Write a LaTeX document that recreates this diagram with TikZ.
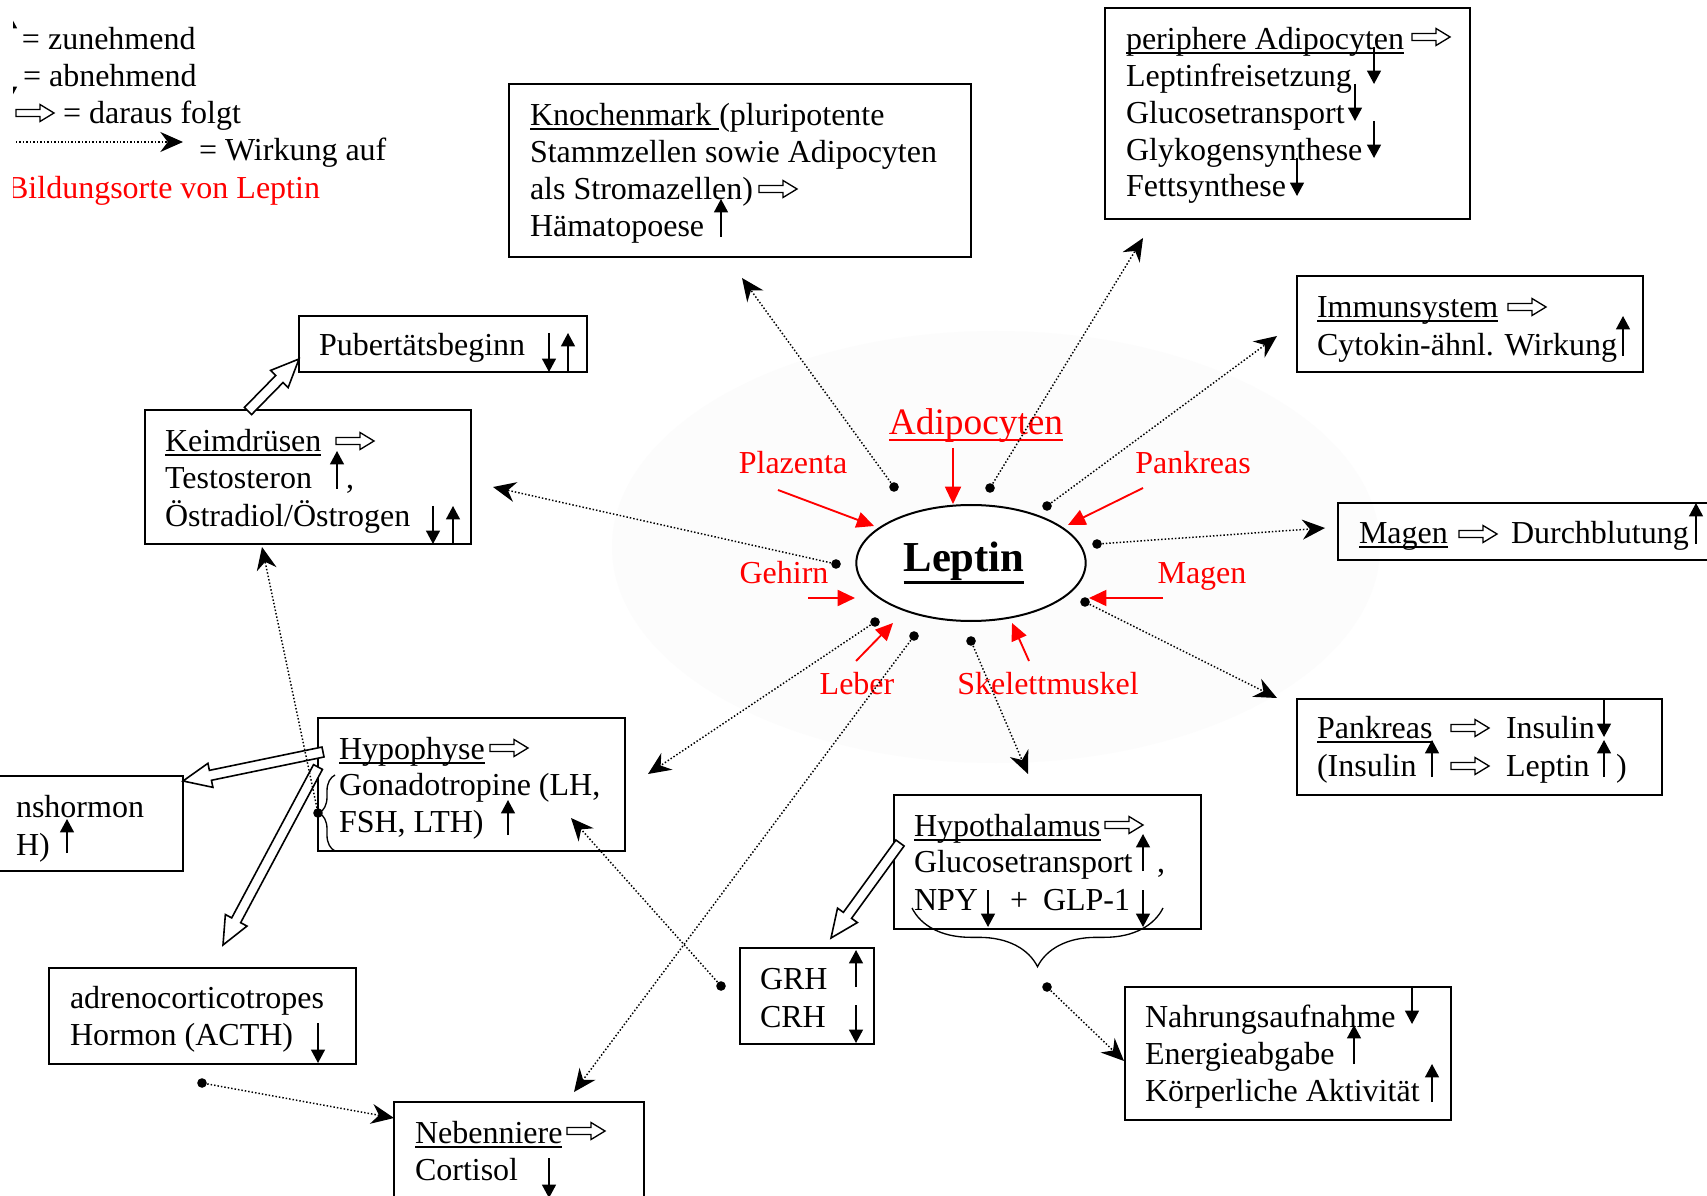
\documentclass[tikz,border=0pt]{standalone}
\usepackage{fontspec}
\setmainfont{Liberation Serif}
\usetikzlibrary{arrows.meta, shapes.geometric, calc, decorations.pathreplacing}

\tikzset{
  txt/.style={inner sep=0pt, outer sep=0pt, anchor=base west, yshift=-0.9pt, font=\fontsize{12}{14}\selectfont},
  rtxt/.style={inner sep=0pt, outer sep=0pt, anchor=base, yshift=-0.9pt, text=red, font=\fontsize{12}{14}\selectfont},
  ul/.style={append after command={([yshift=-1.4pt]\tikzlastnode.base west) edge[line width=0.6pt, draw=black] ([yshift=-1.4pt]\tikzlastnode.base east)}},
  ulred/.style={append after command={([yshift=-2pt]\tikzlastnode.base west) edge[line width=0.7pt, draw=red] ([yshift=-2pt]\tikzlastnode.base east)}},
  ulthick/.style={append after command={([yshift=-3.8pt]\tikzlastnode.base west) edge[line width=1.2pt, draw=black] ([yshift=-3.8pt]\tikzlastnode.base east)}},
  boxst/.style={draw, line width=0.75pt, inner sep=0pt, outer sep=0pt, rectangle},
  updn/.style={line width=0.6pt, -{Triangle[length=5pt, width=5.2pt]}},
  dotarr/.style={line width=0.55pt, dash pattern=on 0.55pt off 0.75pt, -{Stealth[length=8.5pt, width=7.5pt, inset=2.8pt]}},
  redarr/.style={red, line width=0.7pt, -{Triangle[length=6.5pt, width=6pt]}},
  dotn/.style={circle, fill=black, inner sep=0pt, minimum size=3.6pt},
  pics/dimp/.style={code={\draw[line width=0.5pt, fill=white, line join=miter] (0,-3.5)--(24,-3.5)--(24,-8.5)--(38,0)--(24,8.5)--(24,3.5)--(0,3.5)--cycle;}}
}

\newcommand\boxat[5]{\node[boxst, anchor=north west, minimum width={(#4-#2)*0.375pt}, minimum height={(#5-#3)*0.375pt}] (#1) at (#2,#3) {};}

\newcommand\wideArrow[2]{%
  \coordinate (wA) at (#1); \coordinate (wB) at (#2);
  \coordinate (wP) at ($(wB)!10.5pt!(wA)$);
  \draw[line width=0.6pt, fill=white, line join=miter]
    ($(wA)!1.9pt!90:(wB)$) -- ($(wP)!1.9pt!90:(wB)$) -- ($(wP)!4.6pt!90:(wB)$) -- (wB)
    -- ($(wP)!4.6pt!-90:(wB)$) -- ($(wP)!1.9pt!-90:(wB)$) -- ($(wA)!1.9pt!-90:(wB)$) -- cycle;
}

\begin{document}
\begin{tikzpicture}[x=0.375pt, y=-0.375pt]
\useasboundingbox (0,0) rectangle (1707,1196);
\clip (0,0) rectangle (1707,1196);
\fill[white] (0,0) rectangle (1707,1196);

% faint background disc
\fill[black!1.2] (996,547) ellipse [x radius=144pt, y radius=81pt];

% ---------- legend ----------
\begin{scope}
  \clip (13,0) rectangle (600,220);
  \draw[updn] (10,48) -- (10,15);
  \draw[updn] (10,62) -- (10,100);
  \node[txt] (lg1) at (22,47) {= zunehmend};
  \node[txt] (lg2) at (23,84) {= abnehmend};
  \pic at (16,113) {dimp};
  \node[txt] (lg3) at (63,121) {= daraus folgt};
  \coordinate (lgA) at (16,142);
  \coordinate (lgB) at (183,142);
  \draw[dotarr] (lgA) -- (lgB);
  \node[txt] (lg4) at (199,158) {= Wirkung auf};
  \node[txt, text=red, anchor=base east] (lg5) at (320,196) {Bildungsorte von Leptin};
\end{scope}

% ---------- boxes ----------
\boxat{knB}{509}{84}{971}{257}
\boxat{paB}{1105}{8}{1470}{219}
\boxat{imB}{1297}{276}{1643}{372}
\boxat{maB}{1338}{503}{1730}{560}
\boxat{pkB}{1297}{699}{1662}{795}
\boxat{pubB}{299}{316}{587}{372}
\boxat{keB}{145}{410}{471}{544}
\boxat{hyB}{318}{718}{625}{851}
\boxat{ghB}{-20}{776}{183}{871}
\boxat{acB}{49}{968}{356}{1064}
\boxat{neB}{394}{1102}{644}{1230}
\boxat{grB}{740}{948}{874}{1044}
\boxat{htB}{894}{795}{1201}{929}
\boxat{naB}{1125}{987}{1451}{1120}

% Knochenmark
\node[txt, ul] (kn1) at (530,123) {Knochenmark\ \null};
\node[txt, yshift=0.9pt] (kn1b) at (kn1.base east) {(pluripotente};
\node[txt] (kn2) at (530,160) {Stammzellen sowie Adipocyten};
\node[txt] (kn3) at (530,197) {als Stromazellen)};
\pic at (759,189) {dimp};
\node[txt] (kn4) at (530,234) {Hämatopoese};
\draw[updn] (721,237) -- (721,199);

% periphere Adipocyten
\node[txt, ul] (pa1) at (1126,47) {periphere Adipocyten};
\pic at (1412,37) {dimp};
\node[txt] (pa2) at (1126,84) {Leptinfreisetzung};
\node[txt] (pa3) at (1126,121) {Glucosetransport};
\node[txt] (pa4) at (1126,158) {Glykogensynthese};
\node[txt] (pa5) at (1126,194) {Fettsynthese};
\draw[updn] (1374,47) -- (1374,84);
\draw[updn] (1355,84) -- (1355,121);
\draw[updn] (1374,121) -- (1374,158);
\draw[updn] (1297,158) -- (1297,196);

% Immunsystem
\node[txt, ul] (im1) at (1317,315) {Immunsystem};
\pic at (1508,307) {dimp};
\node[txt] (im2) at (1317,353) {Cytokin-ähnl. Wirkung};
\draw[updn] (1623,356) -- (1623,316);

% Magen
\node[txt, ul] (ma1) at (1359,541) {Magen};
\pic at (1459,534) {dimp};
\node[txt] (ma2) at (1511,541) {Durchblutung};
\draw[updn] (1696,544) -- (1696,503);

% Pankreas
\node[txt, ul] (pk1) at (1317,736) {Pankreas};
\pic at (1451,728) {dimp};
\node[txt] (pk2) at (1506,736) {Insulin};
\draw[updn] (1604,699) -- (1604,737);
\node[txt] (pk3) at (1317,774) {(Insulin};
\draw[updn] (1432,777) -- (1432,740);
\pic at (1451,766) {dimp};
\node[txt] (pk4) at (1506,774) {Leptin};
\draw[updn] (1604,777) -- (1604,740);
\node[txt] (pk5) at (1616,774) {)};

% Pubertaet
\node[txt] (pu1) at (319,353) {Pubertätsbeginn};
\draw[updn] (549,333) -- (549,372);
\draw[updn] (568,372) -- (568,333);

% Keimdruesen
\node[txt, ul] (ke1) at (165,449) {Keimdrüsen};
\pic at (336,441) {dimp};
\node[txt] (ke2) at (165,486) {Testosteron};
\draw[updn] (337,489) -- (337,451);
\node[txt] (ke2b) at (346,486) {,};
\node[txt] (ke3) at (165,524) {Östradiol/Östrogen};
\draw[updn] (433,506) -- (433,544);
\draw[updn] (453,544) -- (453,506);

% Hypophyse
\node[txt, ul] (hy1) at (339,757) {Hypophyse};
\pic at (490,748) {dimp};
\node[txt] (hy2) at (339,793) {Gonadotropine (LH,};
\node[txt] (hy3) at (339,830) {FSH, LTH)};
\draw[updn] (508,835) -- (508,800);
\draw[line width=0.5pt, decorate, decoration={brace, amplitude=6pt}] (335,851) -- (335,775);

% growth hormone box (cut off)
\node[txt] (gh1) at (16,815) {nshormon};
\node[txt] (gh2) at (16,853) {H)};
\draw[updn] (67,853) -- (67,819);

% ACTH
\node[txt] (ac1) at (70,1006) {adrenocorticotropes};
\node[txt] (ac2) at (70,1043) {Hormon (ACTH)};
\draw[updn] (318,1023) -- (318,1063);

% Nebenniere
\node[txt, ul] (ne1) at (415,1141) {Nebenniere};
\pic at (567,1131) {dimp};
\node[txt] (ne2) at (415,1178) {Cortisol};
\draw[updn] (549,1158) -- (549,1198);

% GRH / CRH
\node[txt] (gr1) at (760,987) {GRH};
\node[txt] (gr2) at (760,1025) {CRH};
\draw[updn] (856,987) -- (856,950);
\draw[updn] (856,1005) -- (856,1043);

% Hypothalamus
\node[txt, ul] (ht1) at (914,834) {Hypothalamus};
\pic at (1105,825) {dimp};
\node[txt] (ht2) at (914,870) {Glucosetransport};
\draw[updn] (1143,871) -- (1143,834);
\node[txt] (ht2b) at (1157,870) {,};
\node[txt] (ht3) at (914,908) {NPY};
\draw[updn] (988,890) -- (988,927);
\node[txt] (ht3b) at (1010,908) {+};
\node[txt] (ht3c) at (1043,908) {GLP-1};
\draw[updn] (1143,890) -- (1143,927);
\draw[line width=0.5pt, decorate, decoration={brace, amplitude=22pt}] (1163,908) -- (912,908);

% Nahrungsaufnahme
\node[txt] (na1) at (1145,1025) {Nahrungsaufnahme};
\node[txt] (na2) at (1145,1062) {Energieabgabe};
\node[txt] (na3) at (1145,1099) {Körperliche Aktivität};
\draw[updn] (1412,987) -- (1412,1024);
\draw[updn] (1354,1064) -- (1354,1025);
\draw[updn] (1432,1102) -- (1432,1064);

% ---------- wide hollow arrows ----------
\coordinate (keTail) at (248,411);
\coordinate (pubTip) at (299,359);
\wideArrow{keTail}{pubTip}
\coordinate (hyTail1) at (323,752);
\coordinate (ghTip) at (183,781);
\wideArrow{hyTail1}{ghTip}
\coordinate (hyTail2) at (318,767);
\coordinate (acTip) at (223,945);
\wideArrow{hyTail2}{acTip}
\coordinate (htTail) at (900,843);
\coordinate (grTip) at (831,938);
\wideArrow{htTail}{grTip}

% ---------- Leptin centre ----------
\node[ellipse, draw, line width=0.75pt, fill=white, minimum width=86pt, minimum height=43.5pt, inner sep=0pt] (leptin) at (971,563) {};
\node[inner sep=0pt, outer sep=0pt, anchor=base, font=\fontsize{16}{19}\selectfont\bfseries, ulthick] (leptinT) at (964,572) {Leptin};

% red source labels
\node[rtxt, font=\fontsize{14}{16}\selectfont, ulred, yshift=-0.6pt] (sAd) at (976,431) {Adipocyten};
\node[rtxt] (sPl) at (793,471) {Plazenta};
\node[rtxt] (sPk) at (1193,471) {Pankreas};
\node[rtxt] (sGe) at (784,581) {Gehirn};
\node[rtxt] (sMa) at (1202,581) {Magen};
\node[rtxt] (sLe) at (857,692) {Leber};
\node[rtxt] (sSk) at (1048,692) {Skelettmuskel};

\coordinate (rAd1) at (953,448); \coordinate (rAd2) at (953,504);
\coordinate (rPl1) at (778,490); \coordinate (rPl2) at (874,526);
\coordinate (rPk1) at (1143,488); \coordinate (rPk2) at (1068,525);
\coordinate (rGe1) at (808,598); \coordinate (rGe2) at (855,598);
\coordinate (rMa1) at (1163,598); \coordinate (rMa2) at (1089,598);
\coordinate (rLe1) at (856,661); \coordinate (rLe2) at (893,623);
\coordinate (rSk1) at (1029,661); \coordinate (rSk2) at (1012,623);
\draw[redarr] (rAd1) -- (rAd2);
\draw[redarr] (rPl1) -- (rPl2);
\draw[redarr] (rPk1) -- (rPk2);
\draw[redarr] (rGe1) -- (rGe2);
\draw[redarr] (rMa1) -- (rMa2);
\draw[redarr] (rLe1) -- (rLe2);
\draw[redarr] (rSk1) -- (rSk2);

% ---------- dots and effect arrows ----------
\node[dotn] (d1) at (894,487) {};
\node[dotn] (d2) at (990,488) {};
\node[dotn] (d3) at (1047,506) {};
\node[dotn] (d4) at (1097,544) {};
\node[dotn] (d5) at (1085,602) {};
\node[dotn] (d6) at (971,641) {};
\node[dotn] (d7) at (914,636) {};
\node[dotn] (d8) at (875,622) {};
\node[dotn] (d9) at (836,564) {};
\node[dotn] (dHy) at (318,813) {};
\node[dotn] (dAc) at (202,1083) {};
\node[dotn] (dGr) at (721,986) {};
\node[dotn] (dHt) at (1047,987) {};

\coordinate (tKn) at (742,278);
\coordinate (tPa) at (1143,238);
\coordinate (tIm) at (1277,336);
\coordinate (tMa) at (1325,528);
\coordinate (tPk) at (1277,698);
\coordinate (tHt) at (1028,774);
\coordinate (tNe) at (574,1092);
\coordinate (tHy) at (648,774);
\coordinate (tKe) at (493,487);
\coordinate (tKeB) at (262,547);
\coordinate (tHy2) at (571,818);
\coordinate (tNe2) at (394,1118);
\coordinate (tNa) at (1124,1061);

\draw[dotarr] (d1) -- (tKn);
\draw[dotarr] (d2) -- (tPa);
\draw[dotarr] (d3) -- (tIm);
\draw[dotarr] (d4) -- (tMa);
\draw[dotarr] (d5) -- (tPk);
\draw[dotarr] (d6) -- (tHt);
\draw[dotarr] (d7) -- (tNe);
\draw[dotarr] (d8) -- (tHy);
\draw[dotarr] (d9) -- (tKe);
\draw[dotarr] (dHy) -- (tKeB);
\draw[dotarr] (dGr) -- (tHy2);
\draw[dotarr] (dAc) -- (tNe2);
\draw[dotarr] (dHt) -- (tNa);
\end{tikzpicture}
\end{document}
